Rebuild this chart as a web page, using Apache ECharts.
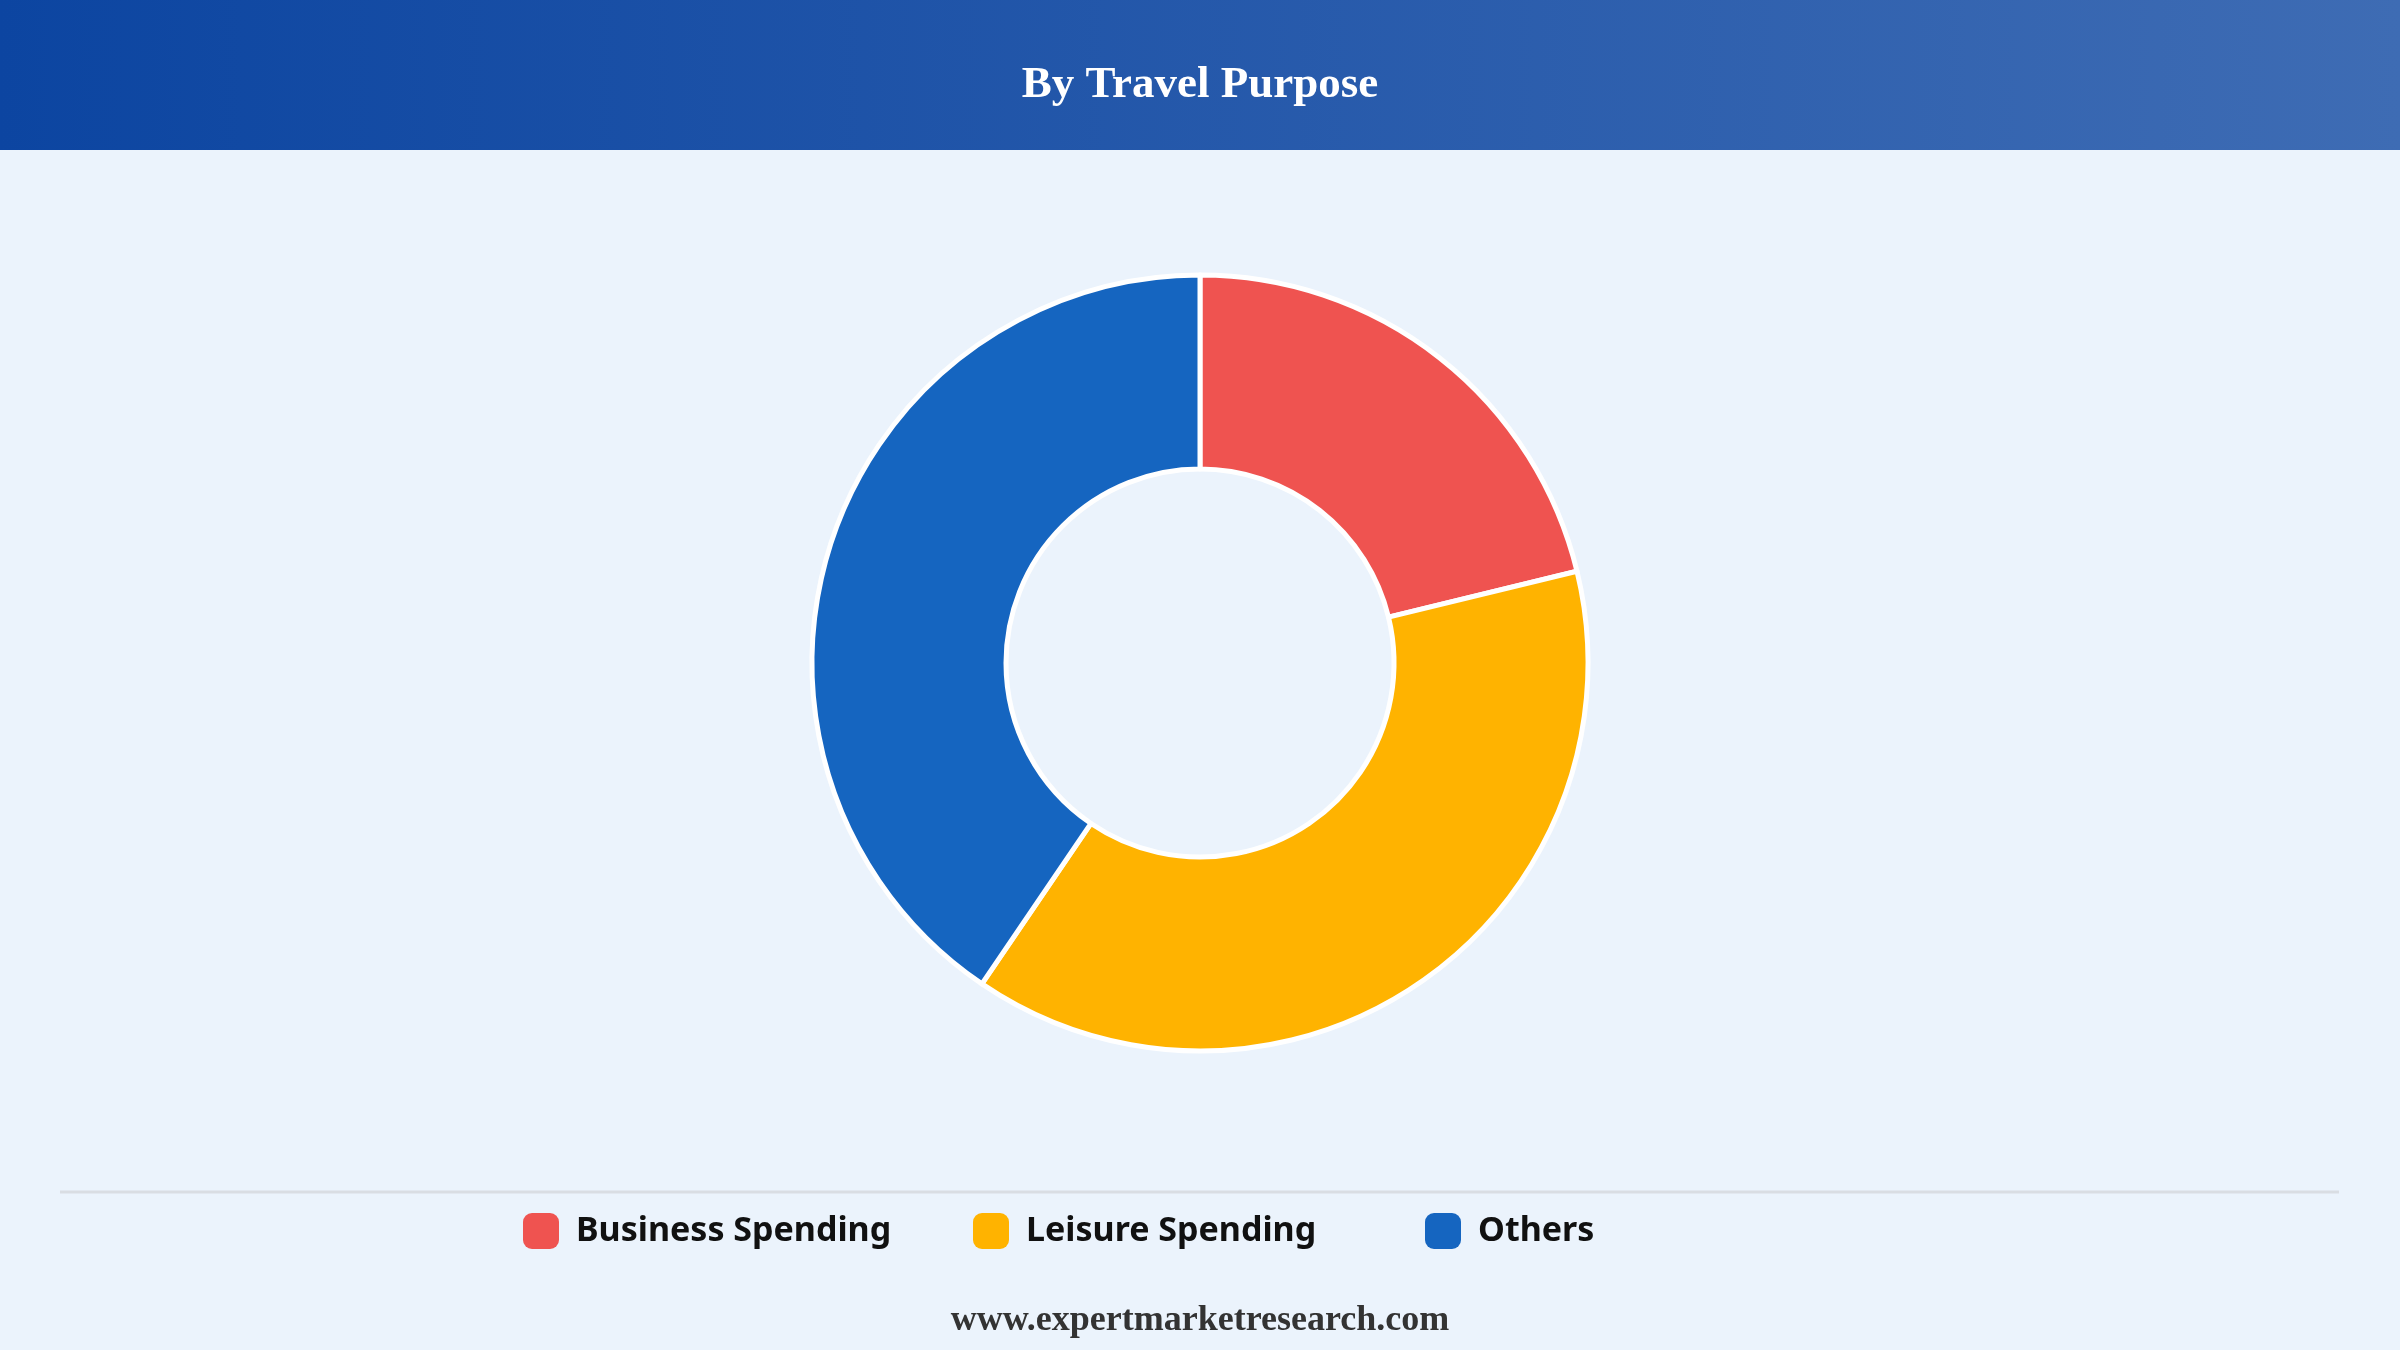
<!DOCTYPE html>
<html>
<head>
<meta charset="utf-8">
<title>By Travel Purpose</title>
<script src="https://cdn.jsdelivr.net/npm/echarts@6/dist/echarts.min.js"></script>
<style>
  html, body { margin: 0; padding: 0; background: #ebf3fc; }
  #chart { width: 2400px; height: 1350px; }
</style>
</head>
<body>
<div id="chart"></div>
<script type="text/javascript">
    // 数据
    var categories = ['Business Spending', 'Leisure Spending', 'Others'];
    var shares = [21.2, 38.3, 40.5];
    var colors = ['#ef5350', '#ffb300', '#1565c0'];
    var legendLeft = [523, 973, 1425];

    var myChart = echarts.init(document.getElementById('chart'));

    var pieData = [];
    for (var i = 0; i < categories.length; i++) {
        pieData.push({ name: categories[i], value: shares[i], itemStyle: { color: colors[i] } });
    }

    // 每个图例单独放置，保持固定列宽
    var legends = [];
    for (var j = 0; j < categories.length; j++) {
        legends.push({
            data: [categories[j]],
            left: legendLeft[j],
            top: 1213,
            padding: 0,
            icon: 'roundRect',
            itemWidth: 36,
            itemHeight: 36,
            itemGap: 0,
            selectedMode: false,
            itemStyle: { borderWidth: 0 },
            textStyle: {
                color: '#111',
                fontFamily: 'Noto Sans',
                fontWeight: 'bold',
                fontSize: 34,
                padding: [0, 0, 0, 12]
            }
        });
    }

    myChart.setOption({
        backgroundColor: '#ebf3fc',
        animation: false,
        title: {
            text: 'By Travel Purpose',
            left: 'center',
            top: 58,
            textStyle: {
                color: '#fff',
                fontFamily: 'Liberation Serif',
                fontWeight: 'bold',
                fontSize: 45
            }
        },
        graphic: [
            {
                type: 'rect',
                z: -10,
                shape: { x: 0, y: 0, width: 2400, height: 150 },
                style: {
                    fill: new echarts.graphic.LinearGradient(0, 0, 1, 0, [
                        { offset: 0, color: '#0c45a1' },
                        { offset: 1, color: '#3e6cb4' }
                    ])
                }
            },
            {
                type: 'line',
                shape: { x1: 60, y1: 1192, x2: 2339, y2: 1192 },
                style: { stroke: '#d9dde3', lineWidth: 3 }
            },
            {
                type: 'text',
                left: 'center',
                top: 1303,
                style: {
                    text: 'www.expertmarketresearch.com',
                    fill: '#333',
                    font: 'bold 36px "Liberation Serif"'
                }
            }
        ],
        legend: legends,
        series: [{
            name: 'By Travel Purpose',
            type: 'pie',
            center: [1200, 663],
            radius: [194, 388],
            startAngle: 90,
            clockwise: true,
            label: { show: false },
            labelLine: { show: false },
            emphasis: { disabled: true },
            itemStyle: { borderColor: '#fff', borderWidth: 5 },
            data: pieData
        }]
    });
</script>
</body>
</html>
